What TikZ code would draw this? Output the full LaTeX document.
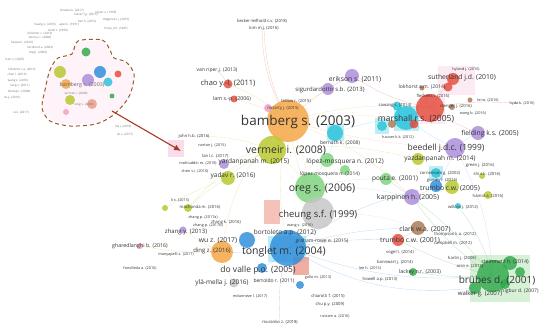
\documentclass[tikz,border=0pt]{standalone}
\usepackage{fontspec}
\setmainfont{Open Sans}
\usetikzlibrary{arrows.meta,backgrounds}
\definecolor{vred}{HTML}{E5493A}
\definecolor{vgreen}{HTML}{2FA84A}
\definecolor{vblue}{HTML}{2B8CDB}
\definecolor{vlime}{HTML}{B7C629}
\definecolor{vpurple}{HTML}{A98BDB}
\definecolor{vorange}{HTML}{F4A43F}
\definecolor{vcyan}{HTML}{27C2DB}
\definecolor{vbrown}{HTML}{A87652}
\definecolor{vpink}{HTML}{F39BC4}
\definecolor{vgrey}{HTML}{C4C4C4}
\definecolor{vlgreen}{HTML}{7BD27B}
\definecolor{vsalmon}{HTML}{EC9A8A}
\definecolor{arrowred}{HTML}{A8391C}
\definecolor{blobline}{HTML}{9C5A2C}
\newcommand{\lblsize}[1]{\fontsize{#1}{#1}\selectfont}

\begin{document}
\begin{tikzpicture}[x=1pt, y=-1pt,
      item/.style={circle, inner sep=0pt, draw=none, fill opacity=0.82},
      lbl/.style={inner sep=0pt, text=black!80},
      huge/.style={lbl, font=\lblsize{13.5}},
      big/.style={lbl, font=\lblsize{10.5}},
      large/.style={lbl, font=\lblsize{8.5}},
      mid/.style={lbl, font=\lblsize{6.8}},
      small/.style={lbl, font=\lblsize{5.3}},
      tiny/.style={lbl, font=\lblsize{4.2}},
      mini/.style={inner sep=0pt, text=black!55, font=\lblsize{3}},
      link/.style={line width=0.35pt, draw opacity=0.3},
      markbox/.style={fill opacity=0.3},
      arrow/.style={-{Latex[length=7pt,width=6pt]}, arrowred, line width=1.1pt},
      blob/.style={blobline, line width=1pt, dash pattern=on 4pt off 3pt}
   ]
   \useasboundingbox (0,0) rectangle (550,328);

   % overview map (top left)
   \fill[vpink, opacity=0.12] plot[smooth cycle] coordinates {(78,43) (104,42) (112,58) (130,66) (133,85) (124,105) (100,122) (62,123) (44,110) (48,72) (68,56)};
   \node[item, fill=vgreen, minimum size=9] (o1) at (86,52) {};
   \node[item, fill=vlime, minimum size=12] (o2) at (60,72) {};
   \node[item, fill=vorange, minimum size=10] (o3) at (66,84) {};
   \node[item, fill=vblue, minimum size=12] (o4) at (100,72) {};
   \node[item, fill=vcyan, minimum size=9] (o5) at (108,82) {};
   \node[item, fill=vpurple, minimum size=12] (o6) at (88,80) {};
   \node[item, fill=vred, minimum size=7] (o7) at (118,74) {};
   \node[item, fill=vsalmon, minimum size=10] (o8) at (92,104) {};
   \node[item, fill=vlime, minimum size=10] (o9) at (70,100) {};
   \node[item, fill=vpink, minimum size=6] (o10) at (66,112) {};
   \node[item, fill=vgreen, minimum size=5] (o11) at (112,96) {};
   \draw[blob] plot[smooth cycle] coordinates {(78,41) (102,40) (110,50) (114,58) (126,62) (134,74) (131,92) (124,104) (112,116) (96,124) (70,126) (50,121) (42,108) (45,90) (50,70) (58,58) (72,54)};
   \node[small, text=black!60] (ob) at (82,85) {bamberg s. (2003)};
   \node[mini] (ov) at (76,94) {vermeir i. (2008)};
   \node[mini] (oo) at (84,105) {oreg s. (2006)};
   \node[mini] (m1) at (72,11) {browne k. (2017)};
   \node[mini] (m2) at (86,15) {kaiser f.g. (2015)};
   \node[mini] (m3) at (106,13) {taylor s. (1995)};
   \node[mini] (m4) at (116,20) {thøgersen j. (2015)};
   \node[mini] (m5) at (45,25) {huang x. (2016)};
   \node[mini] (m6) at (69,25) {ajzen i. (1991)};
   \node[mini] (m7) at (87,22) {han h. (2015)};
   \node[mini] (m8) at (116,29) {hines j.m. (1987)};
   \node[mini] (m9) at (40,34) {klöckner c. (2013)};
   \node[mini] (m10) at (40,38) {stern p.c. (2000)};
   \node[mini] (m11) at (58,31) {bratt c. (1999)};
   \node[mini] (m12) at (22,43) {hassan l. (2016)};
   \node[mini] (m13) at (40,48) {nordlund a. (2003)};
   \node[mini] (m14) at (38,53) {steg l. (2009)};
   \node[mini] (m15) at (15,60) {barr s. (2007)};
   \node[mini] (m16) at (22,70) {klöckner c.a. (2016)};
   \node[mini] (m17) at (17,75) {chan l. (2016)};
   \node[mini] (m18) at (18,81) {wang z. (2016)};
   \node[mini] (m19) at (20,86) {tang z. (2011)};
   \node[mini] (m20) at (19,92) {dunlap r. (2008)};
   \node[mini] (m21) at (12,98) {liu y. (2016)};
   \node[mini] (m22) at (21,113) {xu l. (2017)};
   \node[mini] (m23) at (123,127) {ma j. (2018)};
   \node[mini] (m24) at (125,135) {ali s. (2017)};

   % arrow into the zoomed map
   \fill[vpink, opacity=0.35] (168,140) rectangle (184,157);
   \coordinate (arrS) at (112,111);
   \coordinate (arrE) at (181,151);
   \draw[arrow] (arrS) -- (arrE);

   % items of the zoomed map
   \node[item, fill=vorange, minimum size=42] (bam) at (288,121) {};
   \node[item, fill=vlime, minimum size=28] (ver) at (272,150) {};
   \node[item, fill=vlgreen, minimum size=30] (oreg) at (310,188) {};
   \node[item, fill=vgrey, minimum size=32] (che) at (318,213) {};
   \node[item, fill=vblue, minimum size=36] (ton) at (288,248) {};
   \node[item, fill=vcyan, minimum size=24] (mar) at (406,118) {};
   \node[item, fill=vred, minimum size=28] (marr) at (430,108) {};
   \node[item, fill=vpurple, minimum size=20] (bee) at (455,148) {};
   \node[item, fill=vgreen, minimum size=32] (brb) at (493,276) {};
   \node[item, fill=vorange, minimum size=22] (wu) at (222,252) {};
   \node[item, fill=vlime, minimum size=14] (yad) at (228,178) {};
   \node[item, fill=vpurple, minimum size=10] (yar) at (224,164) {};
   \node[item, fill=vpurple, minimum size=14] (eri) at (352,76) {};
   \node[item, fill=vpurple, minimum size=12] (sig) at (328,89) {};
   \node[item, fill=vred, minimum size=12] (sut) at (453,79) {};
   \node[item, fill=vred, minimum size=9] (sutb) at (448,87) {};
   \node[item, fill=vred, minimum size=9] (chao) at (228,84) {};
   \node[item, fill=vred, minimum size=7] (lam) at (234,99) {};
   \node[item, fill=vcyan, minimum size=9] (saw) at (397,106) {};
   \node[item, fill=vcyan, minimum size=16] (ber) at (335,133) {};
   \node[item, fill=vcyan, minimum size=10] (cyb) at (382,126) {};
   \node[item, fill=vbrown, minimum size=8] (brs) at (392,124) {};
   \node[item, fill=vred, minimum size=9] (reds) at (414,124) {};
   \node[item, fill=vlgreen, minimum size=14] (lmA) at (327,160) {};
   \node[item, fill=vlgreen, minimum size=10] (lmB) at (345,170) {};
   \node[item, fill=vlgreen, minimum size=12] (pou) at (386,179) {};
   \node[item, fill=vpurple, minimum size=16] (kar) at (412,197) {};
   \node[item, fill=vblue, minimum size=12] (trc) at (436,186) {};
   \node[item, fill=vlime, minimum size=14] (try) at (452,187) {};
   \node[item, fill=vcyan, minimum size=10] (cor) at (436,173) {};
   \node[item, fill=vbrown, minimum size=14] (cla) at (418,228) {};
   \node[item, fill=vred, minimum size=12] (trA) at (398,240) {};
   \node[item, fill=vpurple, minimum size=14] (fie) at (478,133) {};
   \node[item, fill=vlime, minimum size=12] (yaz) at (418,159) {};
   \node[item, fill=vgreen, minimum size=14] (stm) at (510,263) {};
   \node[item, fill=vgreen, minimum size=10] (nig) at (520,272) {};
   \node[item, fill=vgreen, minimum size=12] (wal) at (475,288) {};
   \node[item, fill=vgreen, minimum size=10] (grn) at (505,284) {};
   \node[item, fill=vgreen, minimum size=8] (lac) at (413,272) {};
   \node[item, fill=vblue, minimum size=16] (bla) at (247,240) {};
   \node[item, fill=vblue, minimum size=10] (blb) at (262,268) {};
   \node[item, fill=vblue, minimum size=8] (blc) at (300,285) {};
   \node[item, fill=vgrey, minimum size=9] (yla) at (234,283) {};
   \node[item, fill=vlime, minimum size=8] (mac) at (188,208) {};
   \node[item, fill=vlime, minimum size=6] (lix) at (165,208) {};
   \node[item, fill=vpurple, minimum size=7] (zhy) at (183,230) {};
   \node[item, fill=vpink, minimum size=6] (gha) at (140,246) {};
   \node[item, fill=vbrown, minimum size=5] (lok) at (422,88) {};
   \node[item, fill=vbrown, minimum size=5] (lei) at (470,100) {};
   \node[item, fill=vbrown, minimum size=6] (ste) at (452,107) {};
   \node[item, fill=vlime, minimum size=6] (shi) at (482,176) {};
   \node[item, fill=vcyan, minimum size=6] (wil) at (458,206) {};
   \node[item, fill=vlime, minimum size=8] (ham) at (488,195) {};
   \node[item, fill=vpink, minimum size=8] (mcl) at (268,108) {};

   % labels
   \node[huge] (bamL) at (298,122) {bamberg s. (2003)};
   \node[big] (verL) at (286,150) {vermeir i. (2008)};
   \node[big] (oregL) at (322,189) {oreg s. (2006)};
   \node[big, font=\lblsize{9.5}] (cheL) at (318,215) {cheung s.f. (1999)};
   \node[big] (tonL) at (284,252) {tonglet m. (2004)};
   \node[large] (dovL) at (258,270) {do valle p.o. (2005)};
   \node[large] (marL) at (416,119) {marshall r.s. (2005)};
   \node[large] (beeL) at (446,148) {beedell j.d.c. (1999)};
   \node[big, font=\lblsize{10}] (brbL) at (497,280) {brübes d. (2001)};
   \node[mid] (fieL) at (490,134) {fielding k.s. (2005)};
   \node[mid] (sutL) at (462,78) {sutherland j.d. (2010)};
   \node[mid] (eriL) at (355,79) {erikson s. (2011)};
   \node[small, font=\lblsize{6}] (sigL) at (330,90) {sigurdardottir s.b. (2013)};
   \node[mid, font=\lblsize{7.5}] (chaoL) at (228,84) {chao y.-l. (2011)};
   \node[small] (lamL) at (232,99) {lam s.-p. (2006)};
   \node[tiny, font=\lblsize{5}] (vanL) at (217,70) {van riper j. (2013)};
   \node[tiny] (becL) at (262,21) {becker-leifhold c.v. (2018)};
   \node[tiny] (kimL) at (264,28) {kim m.j. (2016)};
   \node[tiny] (tetL) at (296,101) {tetlow r. (2015)};
   \node[tiny] (mclL) at (283,108) {mclarty j. (2015)};
   \node[tiny] (sawL) at (395,105) {sawang s. (2014)};
   \node[tiny, font=\lblsize{3.8}] (hylL) at (466,70) {hyland j. (2016)};
   \node[tiny, font=\lblsize{5}] (lokL) at (422,87) {lokhorst a.m. (2014)};
   \node[tiny] (fleL) at (433,96) {fleskens l. (2016)};
   \node[tiny] (steL) at (456,106) {stenger j. (2016)};
   \node[tiny, font=\lblsize{3.8}] (wanL) at (473,114) {wang b. (2016)};
   \node[tiny, font=\lblsize{3.8}] (leiL) at (488,100) {lei w. (2016)};
   \node[tiny, font=\lblsize{3.8}] (hydL) at (522,104) {hyde k. (2016)};
   \node[tiny, font=\lblsize{3.8}] (hauL) at (398,137) {hauser k.k. (2012)};
   \node[small, font=\lblsize{5}] (berL) at (340,143) {bernath k. (2008)};
   \node[mid, font=\lblsize{6.5}] (lmAL) at (345,162) {lópez-mosquera n. (2012)};
   \node[tiny, font=\lblsize{5}] (lmBL) at (330,174) {lópez-mosquera n. (2014)};
   \node[mid, font=\lblsize{6.5}] (yazL) at (440,159) {yazdanpanah m. (2014)};
   \node[tiny] (greL) at (480,165) {green j. (2016)};
   \node[tiny] (shiL) at (487,174) {shi s.k. (2016)};
   \node[tiny] (corL) at (440,173) {cornelissen g. (2002)};
   \node[tiny] (gurL) at (442,180) {gurney l. (2016)};
   \node[mid] (trcL) at (450,188) {trumbo c.w. (2005)};
   \node[mid, font=\lblsize{6.5}] (pouL) at (395,179) {pouta e. (2001)};
   \node[mid] (karL) at (408,198) {karppinen h. (2005)};
   \node[tiny] (hamL) at (488,196) {hamid a. (2016)};
   \node[tiny] (wilL) at (463,207) {willcox j. (2012)};
   \node[mid] (claL) at (425,229) {clark w.a. (2007)};
   \node[mid] (trAL) at (410,240) {trumbo c.w. (2001)};
   \node[tiny] (thoL) at (455,234) {thompson k.a. (2012)};
   \node[tiny] (camL) at (453,243) {campbell m. (2012)};
   \node[small] (lacL) at (420,272) {lackey n.r. (2003)};
   \node[tiny] (harL) at (462,258) {harlin j. (2008)};
   \node[tiny] (aniL) at (470,266) {anin e. (2015)};
   \node[small] (stmL) at (505,262) {steinmetz h. (2014)};
   \node[small, font=\lblsize{6}] (walL) at (480,294) {walker g. (2007)};
   \node[tiny, font=\lblsize{5}] (nigL) at (520,291) {nigbur d. (2007)};
   \node[tiny] (johL) at (194,136) {john h.b. (2016)};
   \node[tiny, font=\lblsize{3.8}] (norL) at (212,146) {norton j. (2015)};
   \node[tiny] (tanL) at (215,156) {tan l.c. (2017)};
   \node[tiny, font=\lblsize{3.8}] (mohL) at (198,163) {mohiuddin m. (2018)};
   \node[tiny, font=\lblsize{3.8}] (chsL) at (195,171) {chen s.i. (2016)};
   \node[mid, font=\lblsize{6.5}] (yarL) at (254,162) {yardanpanah m. (2015)};
   \node[mid, font=\lblsize{6.5}] (yadL) at (233,176) {yadav r. (2016)};
   \node[tiny, font=\lblsize{3.8}] (lixL) at (180,200) {li x. (2015)};
   \node[tiny] (macL) at (200,207) {machonda m. (2016)};
   \node[tiny, font=\lblsize{3.8}] (zpaL) at (203,218) {zhang p. (2017a)};
   \node[tiny] (zkaL) at (226,222) {zhang k. (2016)};
   \node[tiny, font=\lblsize{3.8}] (zpbL) at (208,226) {zhang p. (2017b)};
   \node[mid, font=\lblsize{6}] (zhyL) at (186,232) {zhang y. (2013)};
   \node[small] (ghaL) at (140,246) {gharedlanghi b. (2016)};
   \node[tiny, font=\lblsize{3.8}] (manL) at (176,255) {manyapelli s. (2017)};
   \node[tiny, font=\lblsize{3.8}] (fonL) at (140,268) {fonolleda a. (2016)};
   \node[mid] (wuL) at (218,241) {wu z. (2017)};
   \node[small, font=\lblsize{6}] (dinL) at (212,251) {ding z. (2016)};
   \node[mid, font=\lblsize{6.5}] (borL) at (285,233) {bortoleto a.p. (2012)};
   \node[tiny, font=\lblsize{5}] (graL) at (322,241) {graham-rowe e. (2015)};
   \node[tiny, font=\lblsize{3.8}] (wngL) at (300,226) {wang s. (2016)};
   \node[mid, font=\lblsize{6.5}] (ylaL) at (222,283) {ylä-mella j. (2016)};
   \node[small, font=\lblsize{5}] (bertL) at (274,281) {bertoldo r. (2011)};
   \node[tiny, font=\lblsize{3.8}] (mduL) at (250,296) {mdunneve l. (2017)};
   \node[tiny, font=\lblsize{3.8}] (galL) at (318,278) {gallo m. (2013)};
   \node[tiny] (howL) at (380,279) {howell a.p. (2013)};
   \node[tiny] (chiL) at (328,296) {chiarotti f. (2015)};
   \node[tiny] (chuL) at (330,304) {chu p.y. (2009)};
   \node[tiny, font=\lblsize{3.8}] (rusL) at (335,316) {rustam a. (2016)};
   \node[tiny] (murL) at (280,322) {muranko z. (2018)};
   \node[tiny] (banL) at (395,262) {bannwart j. (2014)};
   \node[tiny] (vogL) at (400,252) {vogel t. (2014)};
   \node[tiny, font=\lblsize{3.8}] (leeL) at (370,268) {lee h. (2015)};

   \begin{scope}[on background layer]
      % selection marks
      \fill[vcyan, markbox] (327,124) rectangle (344,141);
      \fill[vcyan, markbox] (394,106) rectangle (419,131);
      \fill[vcyan, markbox] (375,118) rectangle (389,134);
      \fill[vcyan, markbox] (429,166) rectangle (443,180);
      \fill[vcyan, markbox] (268,236) rectangle (306,262);
      \fill[vlgreen, markbox] (470,255) rectangle (530,302);
      \fill[vsalmon, opacity=0.8] (293,257) rectangle (309,275);
      \fill[vsalmon, opacity=0.6] (264,200) rectangle (280,224);
      \fill[vpink, opacity=0.2] (438,66) rectangle (475,95);
      \fill[vpink, opacity=0.2] (420,96) rectangle (445,124);
      % links
      \draw[link, vorange] (bam.center) to[bend left=10] (ver.center);
      \draw[link, vorange] (bam.center) to[bend left=8] (oreg.center);
      \draw[link, vorange] (bam.center) to[bend right=8] (che.center);
      \draw[link, vorange] (bam.center) to[bend right=12] (ton.center);
      \draw[link, vorange] (bam.center) to[bend left=6] (mar.center);
      \draw[link, vorange] (bam.center) to[bend left=10] (marr.center);
      \draw[link, vorange] (bam.center) to[bend right=6] (bee.center);
      \draw[link, vorange] (bam.center) to[bend left=10] (eri.center);
      \draw[link, vorange] (bam.center) to[bend left=6] (sig.center);
      \draw[link, vorange] (bam.center) to[bend right=10] (chao.center);
      \draw[link, vorange] (bam.center) to[bend right=8] (lam.center);
      \draw[link, vorange] (bam.center) to[bend left=12] (kar.center);
      \draw[link, vorange] (bam.center) to[bend right=20] (wu.center);
      \draw[link, vred] (bam.center) to[bend left=15] (becL.center);
      \draw[link, vred] (bam.center) to[bend left=12] (kimL.center);
      \draw[link, vlime] (ver.center) to[bend right=10] (yad.center);
      \draw[link, vlime] (ver.center) to[bend right=8] (yar.center);
      \draw[link, vlime] (ver.center) to[bend left=8] (oreg.center);
      \draw[link, vlime] (ver.center) to[bend right=15] (mac.center);
      \draw[link, vlime] (ver.center) to[bend left=10] (yaz.center);
      \draw[link, vlime] (ver.center) to[bend right=10] (johL.center);
      \draw[link, vlgreen] (oreg.center) to[bend left=6] (che.center);
      \draw[link, vlgreen] (oreg.center) to[bend left=8] (kar.center);
      \draw[link, vlgreen] (oreg.center) to[bend left=8] (pou.center);
      \draw[link, vlgreen] (oreg.center) to[bend left=8] (lmA.center);
      \draw[link, vgrey] (che.center) to[bend left=6] (ton.center);
      \draw[link, vgrey] (che.center) to[bend left=10] (cla.center);
      \draw[link, vblue] (ton.center) to[bend left=8] (blb.center);
      \draw[link, vblue] (ton.center) to[bend left=6] (wu.center);
      \draw[link, vblue] (ton.center) to[bend left=8] (cla.center);
      \draw[link, vblue] (ton.center) to[bend left=6] (trA.center);
      \draw[link, vblue] (ton.center) to[bend right=12] (brb.center);
      \draw[link, vblue] (ton.center) to[bend right=18] (wal.center);
      \draw[link, vblue] (ton.center) to[bend left=10] (trc.center);
      \draw[link, vblue] (ton.center) to[bend right=10] (murL.center);
      \draw[link, vred] (marr.center) to[bend left=6] (sut.center);
      \draw[link, vred] (marr.center) to[bend right=6] (fie.center);
      \draw[link, vred] (marr.center) to[bend left=6] (lok.center);
      \draw[link, vred] (marr.center) to[bend left=8] (hydL.center);
      \draw[link, vred] (marr.center) to[bend left=10] (eri.center);
      \draw[link, vcyan] (mar.center) to[bend right=6] (bee.center);
      \draw[link, vcyan] (mar.center) to[bend right=8] (ber.center);
      \draw[link, vpurple] (bee.center) to[bend left=6] (fie.center);
      \draw[link, vpurple] (bee.center) to[bend left=6] (trc.center);
      \draw[link, vpurple] (bee.center) to[bend left=12] (brb.center);
      \draw[link, vgreen] (brb.center) to[bend left=6] (stm.center);
      \draw[link, vgreen] (brb.center) to[bend left=6] (lac.center);
      \draw[link, vgreen] (brb.center) to[bend left=10] (kar.center);
      \draw[link, vgreen] (brb.center) to[bend left=6] (trA.center);
      \draw[link, vgreen] (brb.center) to[bend right=10] (wil.center);
      \draw[link, vgreen] (brb.center) to[bend right=8] (pou.center);
      \draw[link, vorange] (wu.center) to[bend right=6] (yla.center);
      \draw[link, vorange] (wu.center) to[bend left=6] (zhy.center);
      \draw[link, vorange] (wu.center) to[bend left=6] (gha.center);
      \draw[link, vlime] (yad.center) to[bend right=6] (mac.center);
      \draw[link, vlime] (yad.center) to[bend right=6] (lix.center);
      \draw[link, vpurple] (eri.center) to[bend right=6] (sig.center);
      \draw[link, vred] (chao.center) to[bend right=6] (vanL.center);
      \draw[link, vcyan] (ber.center) to[bend left=6] (lmA.center);
      \draw[link, vbrown] (cla.center) to[bend left=6] (trA.center);
      \draw[link, vpurple] (kar.center) to[bend right=6] (trc.center);
   \end{scope}
\end{tikzpicture}
\end{document}
